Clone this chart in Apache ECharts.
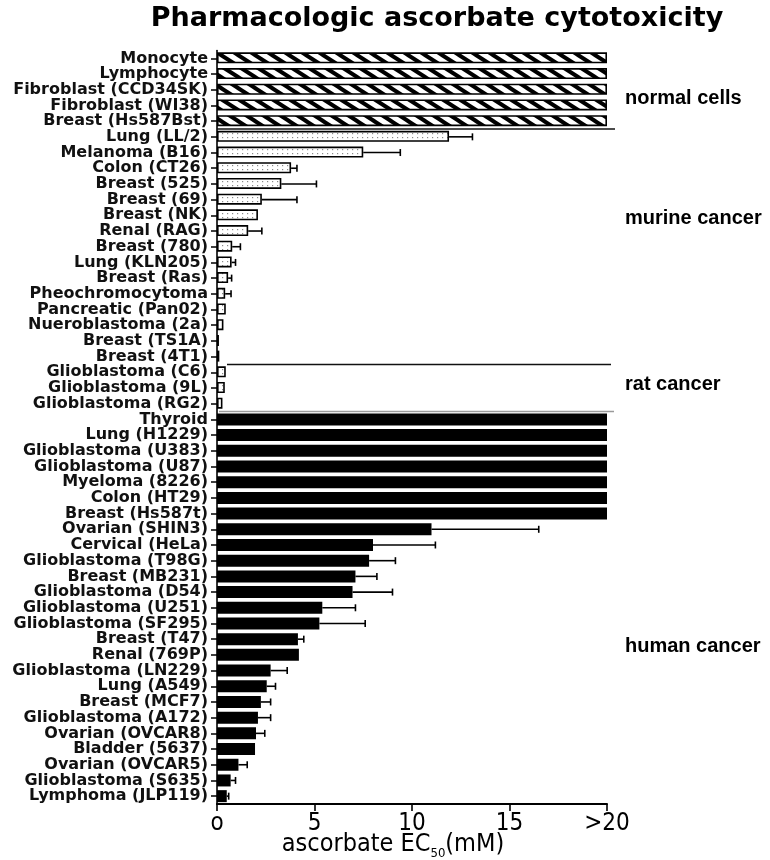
<!DOCTYPE html>
<html>
<head>
<meta charset="utf-8">
<script src="https://cdn.jsdelivr.net/npm/echarts@6/dist/echarts.min.js"></script>
<style>
html,body{margin:0;padding:0;background:#fff;}
#chart{width:770px;height:860px;}
</style>
</head>
<body>
<div id="chart"></div>
<script>
// ---------------- DATA ----------------
const normalCells = ['Monocyte','Lymphocyte','Fibroblast (CCD34SK)','Fibroblast (WI38)','Breast (Hs587Bst)'];
const normalValues = [20,20,20,20,20];
const normalErrors = [null,null,null,null,null];

const murineCancer = ['Lung (LL/2)','Melanoma (B16)','Colon (CT26)','Breast (525)','Breast (69)','Breast (NK)','Renal (RAG)','Breast (780)','Lung (KLN205)','Breast (Ras)','Pheochromocytoma','Pancreatic (Pan02)','Nueroblastoma (2a)','Breast (TS1A)','Breast (4T1)'];
const murineValues = [11.9,7.5,3.8,3.3,2.3,2.1,1.6,0.78,0.75,0.57,0.42,0.45,0.33,0.1,0.12];
const murineErrors = [1.2,1.9,0.3,1.8,1.8,null,0.7,0.42,0.2,0.18,0.3,null,null,null,null];

const ratCancer = ['Glioblastoma (C6)','Glioblastoma (9L)','Glioblastoma (RG2)'];
const ratValues = [0.45,0.4,0.28];
const ratErrors = [null,null,null];

const humanCancer = ['Thyroid','Lung (H1229)','Glioblastoma (U383)','Glioblastoma (U87)','Myeloma (8226)','Colon (HT29)','Breast (Hs587t)','Ovarian (SHIN3)','Cervical (HeLa)','Glioblastoma (T98G)','Breast (MB231)','Glioblastoma (D54)','Glioblastoma (U251)','Glioblastoma (SF295)','Breast (T47)','Renal (769P)','Glioblastoma (LN229)','Lung (A549)','Breast (MCF7)','Glioblastoma (A172)','Ovarian (OVCAR8)','Bladder (5637)','Ovarian (OVCAR5)','Glioblastoma (S635)','Lymphoma (JLP119)'];
const humanValues = [20,20,20,20,20,20,20,11.0,8.0,7.8,7.1,6.95,5.4,5.25,4.15,4.2,2.75,2.55,2.25,2.1,2.0,1.95,1.1,0.7,0.5];
const humanErrors = [null,null,null,null,null,null,null,5.5,3.2,1.35,1.1,2.05,1.7,2.35,0.3,null,0.85,0.45,0.5,0.65,0.45,null,0.45,0.25,0.1];

const groupLabels = ['normal cells','murine cancer','rat cancer','human cancer'];
const xTickLabels = ['o','5','10','15','>20'];
const chartTitle = 'Pharmacologic ascorbate cytotoxicity';

// ---------------- BUILD ----------------
const categories = [].concat(normalCells, murineCancer, ratCancer, humanCancer);
const groups = [
  {cats: normalCells, vals: normalValues, errs: normalErrors},
  {cats: murineCancer, vals: murineValues, errs: murineErrors},
  {cats: ratCancer, vals: ratValues, errs: ratErrors},
  {cats: humanCancer, vals: humanValues, errs: humanErrors}
];

function makeHatch() {
  const W = 17, H = 11;
  const c = document.createElement('canvas');
  c.width = W; c.height = H;
  const ctx = c.getContext('2d');
  ctx.fillStyle = '#fff'; ctx.fillRect(0,0,W,H);
  ctx.strokeStyle = '#000'; ctx.lineWidth = 4;
  for (const dx of [-W, 0, W]) {
    ctx.beginPath();
    ctx.moveTo(dx - W, -H);
    ctx.lineTo(dx + 2*W, 2*H);
    ctx.stroke();
  }
  return c;
}
function makeDots() {
  const W = 5, H = 4;
  const c = document.createElement('canvas');
  c.width = W; c.height = H;
  const ctx = c.getContext('2d');
  ctx.fillStyle = '#fff'; ctx.fillRect(0,0,W,H);
  ctx.fillStyle = '#8a8a8a';
  ctx.fillRect(2,1,1.2,1.2);
  return c;
}
const hatch = {image: makeHatch(), repeat: 'repeat'};
const dots = {image: makeDots(), repeat: 'repeat'};

const groupStyles = [
  {color: hatch, borderColor: '#000', borderWidth: 1.6},
  {color: dots, borderColor: '#000', borderWidth: 1.6},
  {color: dots, borderColor: '#000', borderWidth: 1.6},
  {color: '#000', borderColor: '#000', borderWidth: 0}
];
const groupBarWidth = [11, 11, 11, 12];

const barSeries = groups.map((g, gi) => ({
  type: 'bar',
  name: groupLabels[gi],
  data: g.cats.map((c, i) => [g.vals[i], c]),
  barWidth: groupBarWidth[gi],
  barGap: '-100%',
  itemStyle: groupStyles[gi],
  silent: true,
  z: 2
}));

const errorData = [];
groups.forEach(g => g.cats.forEach((c, i) => {
  if (g.errs[i] != null) errorData.push([g.vals[i], g.errs[i], categories.indexOf(c)]);
}));

// separators after the last category of each of the first three groups
const sepData = [];
let acc = 0;
for (let gi = 0; gi < 3; gi++) { acc += groups[gi].cats.length; sepData.push([0, acc - 1]); }
const sepStartPad = [0, 10, 2];
const sepEndPad = [8, 4, 7];
const sepColor = ['#111', '#111', '#9a9a9a'];

const narrow = '"Liberation Sans Narrow", "DejaVu Sans Condensed", sans-serif';

const chart = echarts.init(document.getElementById('chart'));
chart.setOption({
  animation: false,
  backgroundColor: '#fff',
  title: {
    text: chartTitle,
    left: 432,
    top: 0,
    textAlign: 'center',
    textStyle: {fontFamily: 'DejaVu Sans', fontWeight: 'bold', fontSize: 27, color: '#000'}
  },
  grid: {left: 217, right: 163, top: 50.5, bottom: 56, containLabel: false, outerBoundsMode: 'none'},
  xAxis: {
    type: 'value',
    min: 0, max: 20, interval: 5,
    splitLine: {show: false},
    axisLine: {show: true, lineStyle: {color: '#000', width: 2}},
    axisTick: {show: true, length: 7, lineStyle: {color: '#000', width: 1.6}},
    axisLabel: {
      margin: 8,
      formatter: v => xTickLabels[Math.round(v / 5)],
      fontFamily: narrow,
      fontSize: 24, color: '#000'
    },
    name: '{a|ascorbate EC}{s|50}{a|(mM)}',
    nameLocation: 'middle',
    nameGap: 25,
    nameMoveOverlap: false,
    nameTextStyle: {
      padding: [0, 38, 0, 0],
      rich: {
        a: {fontFamily: narrow, fontSize: 25, color: '#000', lineHeight: 26, verticalAlign: 'middle'},
        s: {fontFamily: narrow, fontSize: 13, color: '#000', lineHeight: 31, verticalAlign: 'bottom'}
      }
    }
  },
  yAxis: {
    type: 'category',
    inverse: true,
    data: categories,
    axisLine: {show: true, lineStyle: {color: '#000', width: 1.6}},
    axisTick: {show: true, alignWithLabel: true, interval: 0, length: 6, lineStyle: {color: '#000', width: 1.5}},
    axisLabel: {interval: 0, margin: 9, fontFamily: 'DejaVu Sans', fontWeight: 'bold', fontSize: 16, color: '#111'},
    splitLine: {show: false}
  },
  series: barSeries.concat([
    {
      type: 'custom',
      name: 'error',
      data: errorData,
      encode: {x: 0, y: 2},
      z: 3,
      silent: true,
      renderItem: function (params, api) {
        const v = api.value(0), e = api.value(1), ci = api.value(2);
        const p0 = api.coord([v, ci]);
        const p1 = api.coord([v + e, ci]);
        const st = {stroke: '#000', lineWidth: 1.6};
        return {
          type: 'group',
          children: [
            {type: 'line', shape: {x1: p0[0], y1: p0[1], x2: p1[0], y2: p1[1]}, style: st},
            {type: 'line', shape: {x1: p1[0], y1: p1[1] - 3.5, x2: p1[0], y2: p1[1] + 3.5}, style: st}
          ]
        };
      }
    },
    {
      type: 'custom',
      name: 'separators',
      data: sepData,
      encode: {x: 0, y: 1},
      z: 4,
      silent: true,
      renderItem: function (params, api) {
        const idx = api.value(1);
        const c0 = api.coord([0, idx]);
        const c1 = api.coord([20, idx]);
        const h = api.size([0, 1])[1];
        const y = c0[1] + h / 2;
        const i = params.dataIndex;
        return {
          type: 'line',
          shape: {x1: c0[0] + sepStartPad[i], y1: y, x2: c1[0] + sepEndPad[i], y2: y},
          style: {stroke: sepColor[i], lineWidth: 1.6}
        };
      }
    }
  ]),
  graphic: [
    {type: 'text', x: 625, y: 98, style: {text: groupLabels[0], fontFamily: 'Liberation Sans', fontWeight: 'bold', fontSize: 20, fill: '#000', verticalAlign: 'middle'}},
    {type: 'text', x: 625, y: 218, style: {text: groupLabels[1], fontFamily: 'Liberation Sans', fontWeight: 'bold', fontSize: 20, fill: '#000', verticalAlign: 'middle'}},
    {type: 'text', x: 625, y: 384, style: {text: groupLabels[2], fontFamily: 'Liberation Sans', fontWeight: 'bold', fontSize: 20, fill: '#000', verticalAlign: 'middle'}},
    {type: 'text', x: 625, y: 646, style: {text: groupLabels[3], fontFamily: 'Liberation Sans', fontWeight: 'bold', fontSize: 20, fill: '#000', verticalAlign: 'middle'}}
  ]
});
</script>
</body>
</html>
